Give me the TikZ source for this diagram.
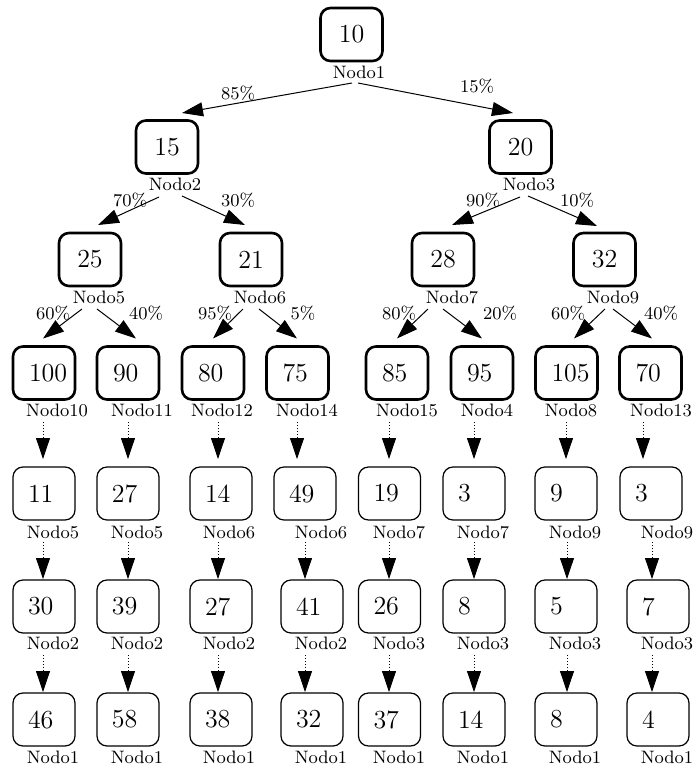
\documentclass[tikz,border=0pt]{standalone}
\usetikzlibrary{arrows.meta}
\tikzset{
  bigbox/.style={draw, line width=1.3pt, rounded corners=5pt, minimum width=31pt,
    minimum height=26.5pt, inner sep=0pt, font=\fontsize{13}{15}\selectfont},
  leftbox/.style={bigbox, text width=15pt, align=left, inner xsep=8pt},
  thinbox/.style={bigbox, text width=16pt, align=left, inner xsep=7.5pt, line width=0.6pt},
  lab/.style={font=\fontsize{9}{11}\selectfont, inner sep=0pt},
  edge/.style={line width=0.5pt, -{Triangle[length=10.5pt,width=7pt]}},
  dedge/.style={edge, densely dotted, line width=0.4pt}
}
\begin{document}
\begin{tikzpicture}[x=0.5pt,y=-0.5pt]
\useasboundingbox (0,0) rectangle (696,767);
% level 0
\node[bigbox] (b1) at (351.5,34.5) {10};
\node[lab] (l1) at (359,72) {Nodo1};
% level 1
\node[bigbox] (b2) at (167,147) {15};
\node[lab] (l2) at (175,184) {Nodo2};
\node[bigbox] (b3) at (520.5,147) {20};
\node[lab] (l3) at (529,184) {Nodo3};
% level 2
\node[bigbox] (b5) at (90,259.5) {25};
\node[lab] (l5) at (99,297) {Nodo5};
\node[bigbox] (b6) at (251,259.5) {21};
\node[lab] (l6) at (260,297) {Nodo6};
\node[bigbox] (b7) at (443,259.5) {28};
\node[lab] (l7) at (452,297) {Nodo7};
\node[bigbox] (b9) at (604.5,259.5) {32};
\node[lab] (l9) at (613,297) {Nodo9};
% edges level 0 -> 1
\coordinate (s12) at (352,83); \coordinate (t12) at (182,113);
\coordinate (s13) at (358,83); \coordinate (t13) at (513,113);
\draw[edge] (s12) -- (t12);
\draw[edge] (s13) -- (t13);
\node[lab] (p12) at (238,93) {85\%};
\node[lab] (p13) at (477,86) {15\%};
% edges level 1 -> 2
\coordinate (s25) at (159,197); \coordinate (t25) at (98,225);
\coordinate (s26) at (182,196); \coordinate (t26) at (245,225);
\coordinate (s37) at (520,197); \coordinate (t37) at (452,225);
\coordinate (s39) at (528,196); \coordinate (t39) at (597,226);
\draw[edge] (s25) -- (t25);
\draw[edge] (s26) -- (t26);
\draw[edge] (s37) -- (t37);
\draw[edge] (s39) -- (t39);
\node[lab] (p25) at (130,200) {70\%};
\node[lab] (p26) at (238,200) {30\%};
\node[lab] (p37) at (483,200) {90\%};
\node[lab] (p39) at (577,200) {10\%};
% edges level 2 -> 3
\foreach \n/\sx/\tx/\px/\pt in {
  a/82/43/53/60, b/97/136/146/40, c/243/213/215/95, d/259/297/303/5,
  e/428/397/399/80, f/443/482/500/20, g/605/574/568/60, h/613/652/661/40}{
  \coordinate (s\n) at (\sx,309);
  \coordinate (t\n) at (\tx,338.5);
  \draw[edge] (s\n) -- (t\n);
  \node[lab] (p\n) at (\px,313) {\pt\%};
}
% level 3 and chains below
\foreach \i/\xa/\xla/\va/\la/\xb/\xlb/\xc/\ea/\eb/\vb/\lb/\vc/\lc/\vd in {
  1/44/57/100/Nodo10/44/53/44/43/43/11/Nodo5/30/Nodo2/46,
  2/128/142/90/Nodo11/128/137/128/128/128/27/Nodo5/39/Nodo2/58,
  3/213/222/80/Nodo12/221/229/221/218/218/14/Nodo6/27/Nodo2/38,
  4/297.5/307/75/Nodo14/305/321/312/297/305/49/Nodo6/41/Nodo2/32,
  5/397/407/85/Nodo15/389.5/399/389.5/389/389/19/Nodo7/26/Nodo3/37,
  6/482/487/95/Nodo4/474/483/474/474/474/3/Nodo7/8/Nodo3/14,
  7/566.5/571/105/Nodo8/566/575/566/566/567/9/Nodo9/5/Nodo3/8,
  8/650.5/661/70/Nodo13/651/667/658/643/652/3/Nodo9/7/Nodo3/4}{
  \node[leftbox] (r3\i) at (\xa,373) {\va};
  \node[lab] (q3\i) at (\xla,410) {\la};
  \node[thinbox] (r4\i) at (\xb,493.5) {\vb};
  \node[lab] (q4\i) at (\xlb,532) {\lb};
  \node[thinbox] (r5\i) at (\xc,606.5) {\vc};
  \node[lab] (q5\i) at (\xlb,643) {\lc};
  \node[thinbox] (r6\i) at (\xc,719.5) {\vd};
  \node[lab] (q6\i) at (\xlb,757) {Nodo1};
  \coordinate (u3\i) at (\ea,422); \coordinate (v3\i) at (\ea,459);
  \coordinate (u4\i) at (\eb,542); \coordinate (v4\i) at (\eb,579);
  \coordinate (u5\i) at (\eb,655); \coordinate (v5\i) at (\eb,692);
  \draw[dedge] (u3\i) -- (v3\i);
  \draw[dedge] (u4\i) -- (v4\i);
  \draw[dedge] (u5\i) -- (v5\i);
}
\end{tikzpicture}
\end{document}
